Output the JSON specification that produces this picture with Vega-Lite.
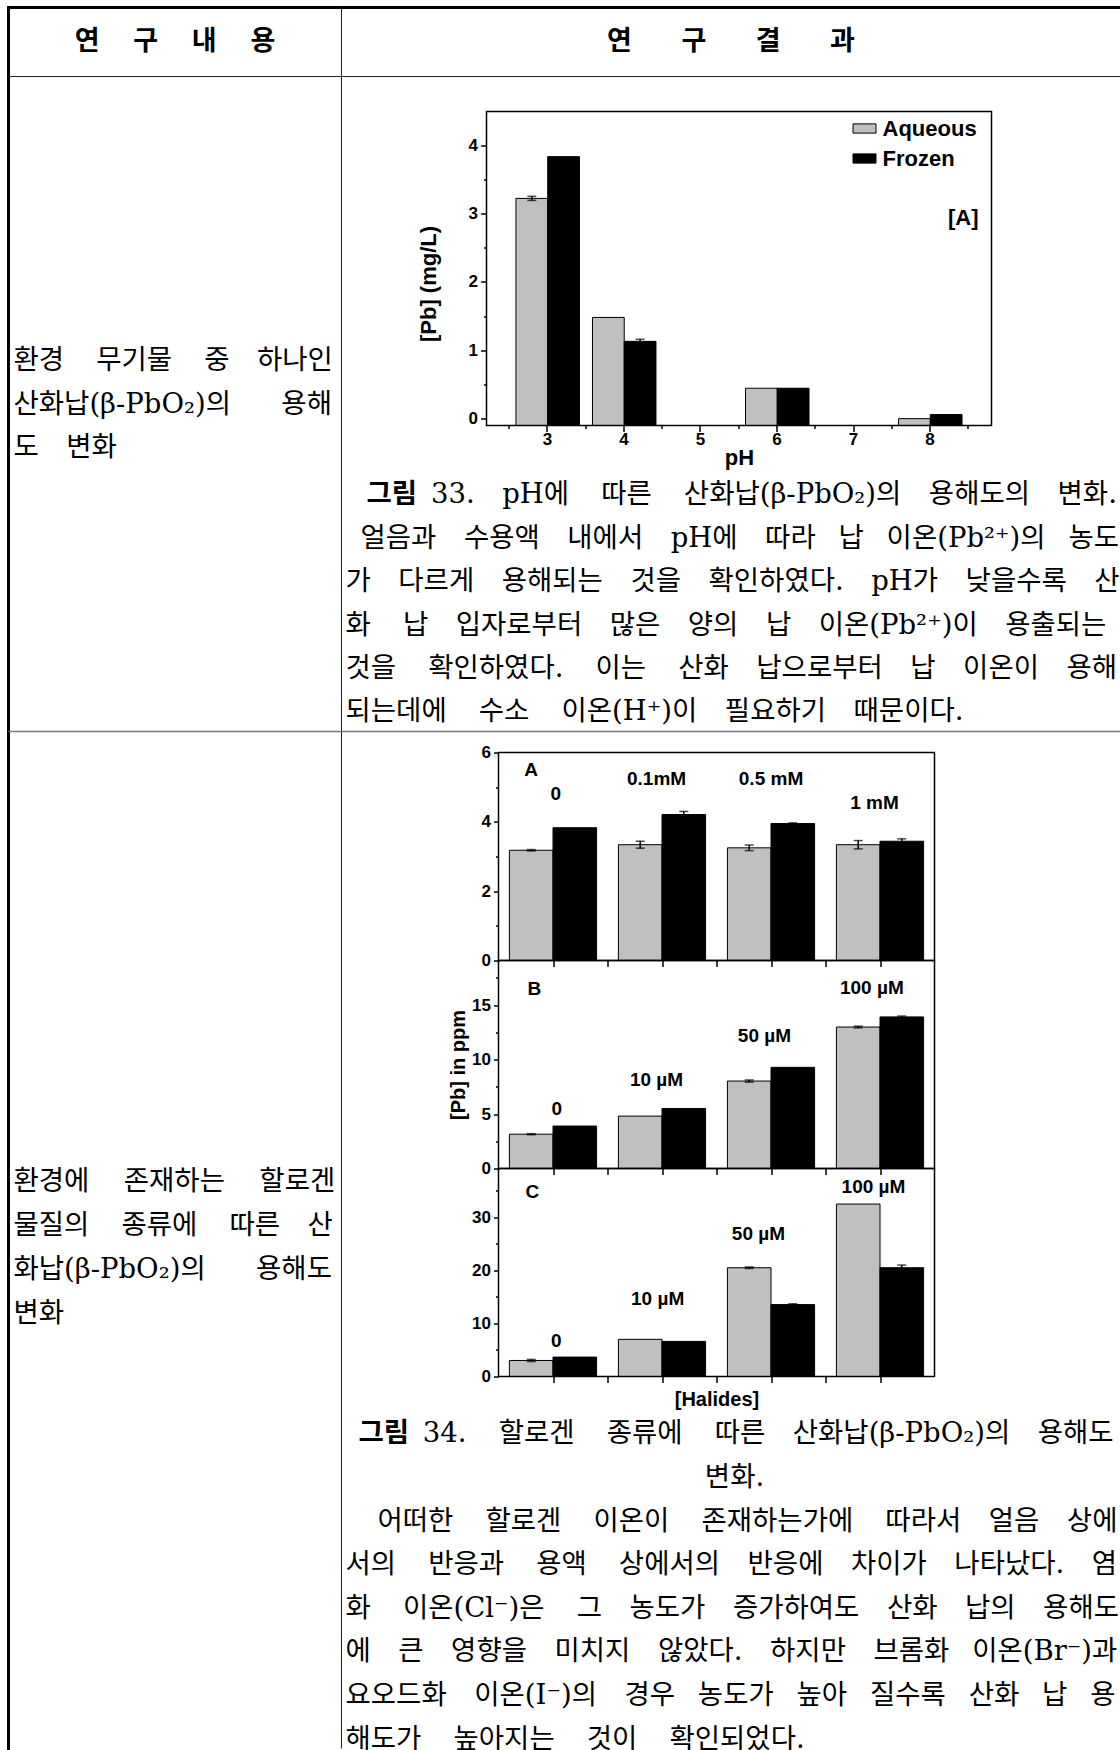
{
  "$schema": "https://vega.github.io/schema/vega-lite/v6.json",
  "background": "white",
  "padding": {"left": 5.5, "top": 4.5, "right": 0, "bottom": 0},
  "columns": 2,
  "spacing": 0,
  "bounds": "flush",
  "config": {
    "view": {"stroke": null},
    "concat": {"spacing": 0},
    "axis": {"domain": false, "grid": false, "minExtent": 0, "tickColor": "black", "tickWidth": 1.5, "labelColor": "black", "labelFont": "Liberation Sans", "labelFontWeight": "bold", "labelFontSize": 17, "titleColor": "black", "titleFont": "Liberation Sans", "titleFontWeight": "bold", "labelFlush": false, "labelOverlap": false}
  },
  "resolve": {"scale": {"color": "independent"}, "legend": {"color": "independent"}},
  "datasets": {
    "ph": [
      {"pH": 3, "series": "Aqueous", "value": 3.22, "err": 0.03},
      {"pH": 3, "series": "Frozen", "value": 3.83, "err": 0},
      {"pH": 4, "series": "Aqueous", "value": 1.48, "err": 0},
      {"pH": 4, "series": "Frozen", "value": 1.13, "err": 0.03},
      {"pH": 6, "series": "Aqueous", "value": 0.445, "err": 0},
      {"pH": 6, "series": "Frozen", "value": 0.445, "err": 0},
      {"pH": 8, "series": "Aqueous", "value": 0.0, "err": 0},
      {"pH": 8, "series": "Frozen", "value": 0.06, "err": 0}
    ],
    "halide": [
      {"panel": "A", "conc": "0", "series": "Aqueous", "value": 3.18, "err": 0.02},
      {"panel": "A", "conc": "0", "series": "Frozen", "value": 3.83, "err": 0},
      {"panel": "A", "conc": "0.1mM", "series": "Aqueous", "value": 3.34, "err": 0.1},
      {"panel": "A", "conc": "0.1mM", "series": "Frozen", "value": 4.21, "err": 0.09},
      {"panel": "A", "conc": "0.5 mM", "series": "Aqueous", "value": 3.25, "err": 0.08},
      {"panel": "A", "conc": "0.5 mM", "series": "Frozen", "value": 3.95, "err": 0.02},
      {"panel": "A", "conc": "1 mM", "series": "Aqueous", "value": 3.34, "err": 0.12},
      {"panel": "A", "conc": "1 mM", "series": "Frozen", "value": 3.44, "err": 0.07},
      {"panel": "B", "conc": "0", "series": "Aqueous", "value": 3.15, "err": 0.05},
      {"panel": "B", "conc": "0", "series": "Frozen", "value": 3.9, "err": 0},
      {"panel": "B", "conc": "10 µM", "series": "Aqueous", "value": 4.81, "err": 0},
      {"panel": "B", "conc": "10 µM", "series": "Frozen", "value": 5.51, "err": 0},
      {"panel": "B", "conc": "50 µM", "series": "Aqueous", "value": 8.03, "err": 0.1},
      {"panel": "B", "conc": "50 µM", "series": "Frozen", "value": 9.29, "err": 0},
      {"panel": "B", "conc": "100 µM", "series": "Aqueous", "value": 12.99, "err": 0.08},
      {"panel": "B", "conc": "100 µM", "series": "Frozen", "value": 13.92, "err": 0.08},
      {"panel": "C", "conc": "0", "series": "Aqueous", "value": 3.02, "err": 0.2},
      {"panel": "C", "conc": "0", "series": "Frozen", "value": 3.66, "err": 0},
      {"panel": "C", "conc": "10 µM", "series": "Aqueous", "value": 7.0, "err": 0},
      {"panel": "C", "conc": "10 µM", "series": "Frozen", "value": 6.62, "err": 0},
      {"panel": "C", "conc": "50 µM", "series": "Aqueous", "value": 20.5, "err": 0.15},
      {"panel": "C", "conc": "50 µM", "series": "Frozen", "value": 13.55, "err": 0.15},
      {"panel": "C", "conc": "100 µM", "series": "Aqueous", "value": 32.5, "err": 0},
      {"panel": "C", "conc": "100 µM", "series": "Frozen", "value": 20.5, "err": 0.5}
    ]
  },
  "concat": [
    {
      "width": 333, "height": 69,
      "data": {"values": [{"t": "연\u3000\u2005구\u3000\u2005내\u3000\u2005용"}]},
      "layer": [
        {"mark": {"type": "rule", "color": "black", "strokeWidth": 3, "strokeCap": "square"}, "encoding": {"x": {"value": 0}}},
        {"mark": {"type": "rule", "color": "black", "strokeWidth": 3, "strokeCap": "square"}, "encoding": {"y": {"value": 0}}},
        {"mark": {"type": "text", "font": "Noto Sans CJK KR", "fontWeight": "bold", "fontSize": 27, "color": "black"}, "encoding": {"text": {"field": "t"}}}
      ]
    },
    {
      "width": 779, "height": 69,
      "data": {"values": [{"t": "연\u3000\u2002\u2004구\u3000\u2002\u2004결\u3000\u2002\u2004과"}]},
      "layer": [
        {"mark": {"type": "rule", "color": "#222222", "strokeWidth": 1}, "encoding": {"x": {"value": 0}}},
        {"mark": {"type": "rule", "color": "black", "strokeWidth": 3}, "encoding": {"y": {"value": 0}}},
        {"mark": {"type": "text", "font": "Noto Sans CJK KR", "fontWeight": "bold", "fontSize": 27, "color": "black"}, "encoding": {"text": {"field": "t"}}}
      ]
    },
    {
      "width": 333, "height": 655,
      "layer": [
        {"data": {"values": [{}]}, "mark": {"type": "rule", "color": "black", "strokeWidth": 3, "strokeCap": "square"}, "encoding": {"x": {"value": 0}}},
        {"data": {"values": [{}]}, "mark": {"type": "rule", "color": "#222222", "strokeWidth": 1}, "encoding": {"y": {"value": 0}}},
        {
          "data": {"values": [
            {"line": 0, "text": "환경\u3000\u2006무기물\u3000\u2006중\u3000하나인"},
            {"line": 1, "text": "산화납(β-PbO₂)의\u3000\u2002\u2004용해"},
            {"line": 2, "text": "도\u3000변화"}
          ]},
          "mark": {"type": "text", "align": "left", "baseline": "middle", "font": "DejaVu Serif, Noto Sans CJK KR", "fontSize": 27.5, "color": "black"},
          "encoding": {
            "x": {"datum": 0.015, "type": "quantitative", "scale": {"domain": [0, 1], "nice": false, "zero": false}, "axis": null},
            "y": {"field": "line", "type": "quantitative", "scale": {"domain": [-6.54, 8.517], "nice": false, "zero": false, "reverse": true}, "axis": null},
            "text": {"field": "text"}
          }
        }
      ]
    },
    {
      "width": 779, "height": 655,
      "layer": [
        {"data": {"values": [{}]}, "mark": {"type": "rule", "color": "#222222", "strokeWidth": 1}, "encoding": {"x": {"value": 0}}},
        {"data": {"values": [{}]}, "mark": {"type": "rule", "color": "#222222", "strokeWidth": 1}, "encoding": {"y": {"value": 0}}},
        {
          "data": {"name": "ph"},
          "mark": {"type": "bar", "stroke": "black", "strokeWidth": 1},
          "encoding": {
            "x": {"field": "pH", "type": "ordinal", "scale": {"domain": [3, 4, 5, 6, 7, 8], "range": [145, 650], "paddingInner": 0.17, "paddingOuter": 0.385}, "axis": null},
            "xOffset": {"field": "series", "type": "nominal", "scale": {"domain": ["Aqueous", "Frozen"], "paddingInner": 0, "paddingOuter": 0}},
            "y": {"field": "value", "type": "quantitative", "scale": {"domain": [-0.1, 4.49], "range": [349, 35], "nice": false, "zero": false},
              "axis": {"orient": "left", "offset": -145, "values": [0, 1, 2, 3, 4], "tickSize": 6, "labelPadding": 3, "labelFont": "Liberation Sans Narrow, Liberation Sans", "labelFontSize": 17, "title": "[Pb] (mg/L)", "titleFontSize": 22, "titlePadding": 28, "titleY": 207}},
            "y2": {"datum": -0.1},
            "color": {"field": "series", "type": "nominal", "scale": {"domain": ["Aqueous", "Frozen"], "range": ["#c0c0c0", "#000000"]},
              "legend": {"title": null, "orient": "none", "legendX": 511, "legendY": 40, "padding": 0, "symbolType": "M-1,-0.4H1V0.4H-1Z", "symbolSize": 529, "symbolStrokeColor": "black", "symbolStrokeWidth": 1, "labelFont": "Liberation Sans", "labelFontWeight": "bold", "labelFontSize": 22, "labelColor": "black", "labelOffset": 6, "rowPadding": 7}}
          }
        },
        {
          "data": {"name": "ph"},
          "transform": [{"filter": "datum.err > 0"}],
          "mark": {"type": "errorbar", "color": "black", "ticks": {"size": 9, "thickness": 1.5, "color": "black"}, "rule": {"color": "black", "strokeWidth": 1.5}},
          "encoding": {
            "x": {"field": "pH", "type": "ordinal", "scale": {"domain": [3, 4, 5, 6, 7, 8], "range": [145, 650], "paddingInner": 0.17, "paddingOuter": 0.385}, "axis": null},
            "xOffset": {"field": "series", "type": "nominal", "scale": {"domain": ["Aqueous", "Frozen"], "paddingInner": 0, "paddingOuter": 0}},
            "y": {"field": "value", "type": "quantitative", "scale": {"domain": [-0.1, 4.49], "range": [349, 35], "nice": false, "zero": false}, "axis": null},
            "yError": {"field": "err"}
          }
        },
        {
          "data": {"values": [{}]},
          "mark": {"type": "text", "font": "Liberation Sans", "fontWeight": "bold", "fontSize": 22, "color": "black"},
          "encoding": {
            "x": {"datum": 8.44, "type": "quantitative", "scale": {"domain": [2.21, 8.81], "range": [145, 650], "nice": false, "zero": false},
              "axis": {"orient": "bottom", "offset": -306, "values": [3, 4, 5, 6, 7, 8], "tickSize": 6, "labelPadding": 0, "labelFont": "Liberation Sans Narrow, Liberation Sans", "labelFontSize": 17, "title": "pH", "titleFontSize": 22, "titlePadding": 0}},
            "y": {"datum": 2.93, "type": "quantitative", "scale": {"domain": [-0.1, 4.49], "range": [349, 35], "nice": false, "zero": false},
              "axis": {"orient": "left", "offset": -145, "values": [0.5, 1.5, 2.5, 3.5], "tickSize": 3, "labels": false, "title": null}},
            "text": {"value": "[A]"}
          }
        },
        {
          "data": {"values": [{}]},
          "mark": {"type": "text", "fontSize": 1},
          "encoding": {
            "x": {"datum": 5, "type": "quantitative", "scale": {"domain": [2.21, 8.81], "range": [145, 650], "nice": false, "zero": false},
              "axis": {"orient": "bottom", "offset": -306, "values": [2.5, 3.5, 4.5, 5.5, 6.5, 7.5, 8.5], "tickSize": 3, "labels": false, "title": null}},
            "y": {"datum": 1, "type": "quantitative", "scale": {"domain": [-0.1, 4.49], "range": [349, 35], "nice": false, "zero": false}, "axis": null},
            "text": {"value": ""}
          }
        },
        {
          "data": {"values": [{}]},
          "mark": {"type": "rect", "filled": false, "color": "black", "strokeWidth": 1.5},
          "encoding": {
            "x": {"datum": 2.21, "type": "quantitative", "scale": {"domain": [2.21, 8.81], "range": [145, 650], "nice": false, "zero": false}, "axis": null},
            "x2": {"datum": 8.81},
            "y": {"datum": -0.1, "type": "quantitative", "scale": {"domain": [-0.1, 4.49], "range": [349, 35], "nice": false, "zero": false}, "axis": null},
            "y2": {"datum": 4.49}
          }
        },
        {
          "data": {"values": [{"line": 0, "text": "그림"}]},
          "mark": {"type": "text", "align": "left", "baseline": "middle", "font": "DejaVu Serif, Noto Sans CJK KR", "fontWeight": "bold", "fontSize": 27.5, "color": "black"},
          "encoding": {
            "x": {"datum": 0.0321, "type": "quantitative", "scale": {"domain": [0, 1], "nice": false, "zero": false}, "axis": null},
            "y": {"field": "line", "type": "quantitative", "scale": {"domain": [-9.654, 5.438], "nice": false, "zero": false, "reverse": true}, "axis": null},
            "text": {"field": "text"}
          }
        },
        {
          "data": {"values": [{"line": 0, "text": "33.\u3000pH에\u3000\u2006따른\u3000\u2006산화납(β-PbO₂)의\u3000용해도의\u3000변화."}]},
          "mark": {"type": "text", "align": "left", "baseline": "middle", "font": "DejaVu Serif, Noto Sans CJK KR", "fontSize": 27.5, "color": "black"},
          "encoding": {
            "x": {"datum": 0.1148, "type": "quantitative", "scale": {"domain": [0, 1], "nice": false, "zero": false}, "axis": null},
            "y": {"field": "line", "type": "quantitative", "scale": {"domain": [-9.654, 5.438], "nice": false, "zero": false, "reverse": true}, "axis": null},
            "text": {"field": "text"}
          }
        },
        {
          "data": {"values": [{"line": 1, "text": "얼음과\u3000수용액\u3000내에서\u3000pH에\u3000따라\u2002\u2004납\u2002\u2004이온(Pb²⁺)의\u2002\u2004농도"}]},
          "mark": {"type": "text", "align": "left", "baseline": "middle", "font": "DejaVu Serif, Noto Sans CJK KR", "fontSize": 27.5, "color": "black"},
          "encoding": {
            "x": {"datum": 0.0244, "type": "quantitative", "scale": {"domain": [0, 1], "nice": false, "zero": false}, "axis": null},
            "y": {"field": "line", "type": "quantitative", "scale": {"domain": [-9.654, 5.438], "nice": false, "zero": false, "reverse": true}, "axis": null},
            "text": {"field": "text"}
          }
        },
        {
          "data": {"values": [
            {"line": 2, "text": "가\u3000다르게\u3000용해되는\u3000것을\u3000확인하였다.\u3000pH가\u3000낮을수록\u3000산"},
            {"line": 3, "text": "화\u3000\u2006납\u3000입자로부터\u3000많은\u3000양의\u3000납\u3000이온(Pb²⁺)이\u3000용출되는"},
            {"line": 4, "text": "것을\u3000\u2006확인하였다.\u3000\u2006이는\u3000\u2006산화\u3000납으로부터\u3000납\u3000이온이\u3000용해"},
            {"line": 5, "text": "되는데에\u3000\u2006수소\u3000\u2006이온(H⁺)이\u3000필요하기\u3000때문이다."}
          ]},
          "mark": {"type": "text", "align": "left", "baseline": "middle", "font": "DejaVu Serif, Noto Sans CJK KR", "fontSize": 27.5, "color": "black"},
          "encoding": {
            "x": {"datum": 0.00513, "type": "quantitative", "scale": {"domain": [0, 1], "nice": false, "zero": false}, "axis": null},
            "y": {"field": "line", "type": "quantitative", "scale": {"domain": [-9.654, 5.438], "nice": false, "zero": false, "reverse": true}, "axis": null},
            "text": {"field": "text"}
          }
        }
      ],
      "resolve": {"scale": {"x": "independent", "y": "independent", "xOffset": "independent"}, "axis": {"x": "independent", "y": "independent"}}
    },
    {
      "width": 333, "height": 1017,
      "layer": [
        {"data": {"values": [{}]}, "mark": {"type": "rule", "color": "black", "strokeWidth": 3, "strokeCap": "square"}, "encoding": {"x": {"value": 0}}},
        {"data": {"values": [{}]}, "mark": {"type": "rule", "color": "#777777", "strokeWidth": 1.5}, "encoding": {"y": {"value": 0}}},
        {
          "data": {"values": [
            {"line": 0, "text": "환경에\u3000\u2005존재하는\u3000\u2005할로겐"},
            {"line": 1, "text": "물질의\u3000\u2006종류에\u3000\u2006따른\u3000산"},
            {"line": 2, "text": "화납(β-PbO₂)의\u3000\u2002\u2004용해도"},
            {"line": 3, "text": "변화"}
          ]},
          "mark": {"type": "text", "align": "left", "baseline": "middle", "font": "DejaVu Serif, Noto Sans CJK KR", "fontSize": 27.5, "color": "black"},
          "encoding": {
            "x": {"datum": 0.015, "type": "quantitative", "scale": {"domain": [0, 1], "nice": false, "zero": false}, "axis": null},
            "y": {"field": "line", "type": "quantitative", "scale": {"domain": [-10.234, 12.88], "nice": false, "zero": false, "reverse": true}, "axis": null},
            "text": {"field": "text"}
          }
        }
      ]
    },
    {
      "width": 779, "height": 1017,
      "layer": [
        {"data": {"values": [{}]}, "mark": {"type": "rule", "color": "#222222", "strokeWidth": 1}, "encoding": {"x": {"value": 0}}},
        {"data": {"values": [{}]}, "mark": {"type": "rule", "color": "#777777", "strokeWidth": 1.5}, "encoding": {"y": {"value": 0}}},

        {
          "data": {"name": "halide"},
          "transform": [{"filter": "datum.panel === 'A'"}],
          "mark": {"type": "bar", "stroke": "black", "strokeWidth": 1},
          "encoding": {
            "x": {"field": "conc", "type": "ordinal", "scale": {"domain": ["0", "0.1mM", "0.5 mM", "1 mM"], "range": [157, 593], "paddingInner": 0.2, "paddingOuter": 0.1}, "axis": null},
            "xOffset": {"field": "series", "type": "nominal", "scale": {"domain": ["Aqueous", "Frozen"], "paddingInner": 0, "paddingOuter": 0}},
            "y": {"field": "value", "type": "quantitative", "scale": {"domain": [0, 6], "range": [229, 21], "nice": false, "zero": false}, "axis": {"orient": "left", "offset": -157, "values": [0, 2, 4, 6], "tickSize": 5, "labelPadding": 3, "title": null}},
            "color": {"field": "series", "type": "nominal", "scale": {"domain": ["Aqueous", "Frozen"], "range": ["#c0c0c0", "#000000"]}, "legend": null}
          }
        },
        {
          "data": {"name": "halide"},
          "transform": [{"filter": "datum.panel === 'A' && datum.err > 0"}],
          "mark": {"type": "errorbar", "color": "black", "ticks": {"size": 9, "thickness": 1.5, "color": "black"}, "rule": {"color": "black", "strokeWidth": 1.5}},
          "encoding": {
            "x": {"field": "conc", "type": "ordinal", "scale": {"domain": ["0", "0.1mM", "0.5 mM", "1 mM"], "range": [157, 593], "paddingInner": 0.2, "paddingOuter": 0.1}, "axis": null},
            "xOffset": {"field": "series", "type": "nominal", "scale": {"domain": ["Aqueous", "Frozen"], "paddingInner": 0, "paddingOuter": 0}},
            "y": {"field": "value", "type": "quantitative", "scale": {"domain": [0, 6], "range": [229, 21], "nice": false, "zero": false}, "axis": null},
            "yError": {"field": "err"}
          }
        },
        {
          "data": {"values": [{}]},
          "mark": {"type": "text", "font": "Liberation Sans", "fontWeight": "bold", "fontSize": 19, "color": "black"},
          "encoding": {
            "x": {"datum": 0.6, "type": "quantitative", "scale": {"domain": [0, 8], "range": [157, 593], "nice": false, "zero": false}, "axis": {"orient": "bottom", "offset": -788, "values": [1, 2, 3, 4, 5, 6, 7], "tickSize": 6, "labels": false, "title": null}},
            "y": {"datum": 5.5, "type": "quantitative", "scale": {"domain": [0, 6], "range": [229, 21], "nice": false, "zero": false}, "axis": {"orient": "left", "offset": -157, "values": [1, 3, 5], "tickSize": 3, "labels": false, "title": null}},
            "text": {"value": "A"}
          }
        },
        {"data": {"values": [{}]}, "mark": {"type": "text", "font": "Liberation Sans", "fontWeight": "bold", "fontSize": 19, "color": "black"},
          "encoding": {"x": {"datum": 1.05, "type": "quantitative", "scale": {"domain": [0, 8], "range": [157, 593], "nice": false, "zero": false}, "axis": null}, "y": {"datum": 4.8, "type": "quantitative", "scale": {"domain": [0, 6], "range": [229, 21], "nice": false, "zero": false}, "axis": null}, "text": {"value": "0"}}},
        {"data": {"values": [{}]}, "mark": {"type": "text", "font": "Liberation Sans", "fontWeight": "bold", "fontSize": 19, "color": "black"},
          "encoding": {"x": {"datum": 2.9, "type": "quantitative", "scale": {"domain": [0, 8], "range": [157, 593], "nice": false, "zero": false}, "axis": null}, "y": {"datum": 5.25, "type": "quantitative", "scale": {"domain": [0, 6], "range": [229, 21], "nice": false, "zero": false}, "axis": null}, "text": {"value": "0.1mM"}}},
        {"data": {"values": [{}]}, "mark": {"type": "text", "font": "Liberation Sans", "fontWeight": "bold", "fontSize": 19, "color": "black"},
          "encoding": {"x": {"datum": 5.0, "type": "quantitative", "scale": {"domain": [0, 8], "range": [157, 593], "nice": false, "zero": false}, "axis": null}, "y": {"datum": 5.25, "type": "quantitative", "scale": {"domain": [0, 6], "range": [229, 21], "nice": false, "zero": false}, "axis": null}, "text": {"value": "0.5 mM"}}},
        {"data": {"values": [{}]}, "mark": {"type": "text", "font": "Liberation Sans", "fontWeight": "bold", "fontSize": 19, "color": "black"},
          "encoding": {"x": {"datum": 6.9, "type": "quantitative", "scale": {"domain": [0, 8], "range": [157, 593], "nice": false, "zero": false}, "axis": null}, "y": {"datum": 4.55, "type": "quantitative", "scale": {"domain": [0, 6], "range": [229, 21], "nice": false, "zero": false}, "axis": null}, "text": {"value": "1 mM"}}},
        {
          "data": {"values": [{}]},
          "mark": {"type": "rect", "filled": false, "color": "black", "strokeWidth": 1.5},
          "encoding": {
            "x": {"datum": 0, "type": "quantitative", "scale": {"domain": [0, 8], "range": [157, 593], "nice": false, "zero": false}, "axis": null},
            "x2": {"datum": 8},
            "y": {"datum": 0, "type": "quantitative", "scale": {"domain": [0, 6], "range": [229, 21], "nice": false, "zero": false}, "axis": null},
            "y2": {"datum": 6}
          }
        },

        {
          "data": {"name": "halide"},
          "transform": [{"filter": "datum.panel === 'B'"}],
          "mark": {"type": "bar", "stroke": "black", "strokeWidth": 1},
          "encoding": {
            "x": {"field": "conc", "type": "ordinal", "scale": {"domain": ["0", "10 µM", "50 µM", "100 µM"], "range": [157, 593], "paddingInner": 0.2, "paddingOuter": 0.1}, "axis": null},
            "xOffset": {"field": "series", "type": "nominal", "scale": {"domain": ["Aqueous", "Frozen"], "paddingInner": 0, "paddingOuter": 0}},
            "y": {"field": "value", "type": "quantitative", "scale": {"domain": [0, 19.1], "range": [437, 229], "nice": false, "zero": false}, "axis": {"orient": "left", "offset": -157, "values": [0, 5, 10, 15], "tickSize": 5, "labelPadding": 3, "title": "[Pb] in ppm", "titleFontSize": 20, "titlePadding": 3}},
            "color": {"field": "series", "type": "nominal", "scale": {"domain": ["Aqueous", "Frozen"], "range": ["#c0c0c0", "#000000"]}, "legend": null}
          }
        },
        {
          "data": {"name": "halide"},
          "transform": [{"filter": "datum.panel === 'B' && datum.err > 0"}],
          "mark": {"type": "errorbar", "color": "black", "ticks": {"size": 9, "thickness": 1.5, "color": "black"}, "rule": {"color": "black", "strokeWidth": 1.5}},
          "encoding": {
            "x": {"field": "conc", "type": "ordinal", "scale": {"domain": ["0", "10 µM", "50 µM", "100 µM"], "range": [157, 593], "paddingInner": 0.2, "paddingOuter": 0.1}, "axis": null},
            "xOffset": {"field": "series", "type": "nominal", "scale": {"domain": ["Aqueous", "Frozen"], "paddingInner": 0, "paddingOuter": 0}},
            "y": {"field": "value", "type": "quantitative", "scale": {"domain": [0, 19.1], "range": [437, 229], "nice": false, "zero": false}, "axis": null},
            "yError": {"field": "err"}
          }
        },
        {
          "data": {"values": [{}]},
          "mark": {"type": "text", "font": "Liberation Sans", "fontWeight": "bold", "fontSize": 19, "color": "black"},
          "encoding": {
            "x": {"datum": 0.66, "type": "quantitative", "scale": {"domain": [0, 8], "range": [157, 593], "nice": false, "zero": false}, "axis": {"orient": "bottom", "offset": -580, "values": [1, 2, 3, 4, 5, 6, 7], "tickSize": 6, "labels": false, "title": null}},
            "y": {"datum": 16.5, "type": "quantitative", "scale": {"domain": [0, 19.1], "range": [437, 229], "nice": false, "zero": false}, "axis": {"orient": "left", "offset": -157, "values": [2.5, 7.5, 12.5, 17.5], "tickSize": 3, "labels": false, "title": null}},
            "text": {"value": "B"}
          }
        },
        {"data": {"values": [{}]}, "mark": {"type": "text", "font": "Liberation Sans", "fontWeight": "bold", "fontSize": 19, "color": "black"},
          "encoding": {"x": {"datum": 1.07, "type": "quantitative", "scale": {"domain": [0, 8], "range": [157, 593], "nice": false, "zero": false}, "axis": null}, "y": {"datum": 5.5, "type": "quantitative", "scale": {"domain": [0, 19.1], "range": [437, 229], "nice": false, "zero": false}, "axis": null}, "text": {"value": "0"}}},
        {"data": {"values": [{}]}, "mark": {"type": "text", "font": "Liberation Sans", "fontWeight": "bold", "fontSize": 19, "color": "black"},
          "encoding": {"x": {"datum": 2.9, "type": "quantitative", "scale": {"domain": [0, 8], "range": [157, 593], "nice": false, "zero": false}, "axis": null}, "y": {"datum": 8.1, "type": "quantitative", "scale": {"domain": [0, 19.1], "range": [437, 229], "nice": false, "zero": false}, "axis": null}, "text": {"value": "10 µM"}}},
        {"data": {"values": [{}]}, "mark": {"type": "text", "font": "Liberation Sans", "fontWeight": "bold", "fontSize": 19, "color": "black"},
          "encoding": {"x": {"datum": 4.88, "type": "quantitative", "scale": {"domain": [0, 8], "range": [157, 593], "nice": false, "zero": false}, "axis": null}, "y": {"datum": 12.2, "type": "quantitative", "scale": {"domain": [0, 19.1], "range": [437, 229], "nice": false, "zero": false}, "axis": null}, "text": {"value": "50 µM"}}},
        {"data": {"values": [{}]}, "mark": {"type": "text", "font": "Liberation Sans", "fontWeight": "bold", "fontSize": 19, "color": "black"},
          "encoding": {"x": {"datum": 6.85, "type": "quantitative", "scale": {"domain": [0, 8], "range": [157, 593], "nice": false, "zero": false}, "axis": null}, "y": {"datum": 16.6, "type": "quantitative", "scale": {"domain": [0, 19.1], "range": [437, 229], "nice": false, "zero": false}, "axis": null}, "text": {"value": "100 µM"}}},
        {
          "data": {"values": [{}]},
          "mark": {"type": "rect", "filled": false, "color": "black", "strokeWidth": 1.5},
          "encoding": {
            "x": {"datum": 0, "type": "quantitative", "scale": {"domain": [0, 8], "range": [157, 593], "nice": false, "zero": false}, "axis": null},
            "x2": {"datum": 8},
            "y": {"datum": 0, "type": "quantitative", "scale": {"domain": [0, 19.1], "range": [437, 229], "nice": false, "zero": false}, "axis": null},
            "y2": {"datum": 19.1}
          }
        },

        {
          "data": {"name": "halide"},
          "transform": [{"filter": "datum.panel === 'C'"}],
          "mark": {"type": "bar", "stroke": "black", "strokeWidth": 1},
          "encoding": {
            "x": {"field": "conc", "type": "ordinal", "scale": {"domain": ["0", "10 µM", "50 µM", "100 µM"], "range": [157, 593], "paddingInner": 0.2, "paddingOuter": 0.1}, "axis": null},
            "xOffset": {"field": "series", "type": "nominal", "scale": {"domain": ["Aqueous", "Frozen"], "paddingInner": 0, "paddingOuter": 0}},
            "y": {"field": "value", "type": "quantitative", "scale": {"domain": [0, 39.2], "range": [645, 437], "nice": false, "zero": false}, "axis": {"orient": "left", "offset": -157, "values": [0, 10, 20, 30], "tickSize": 5, "labelPadding": 3, "title": null}},
            "color": {"field": "series", "type": "nominal", "scale": {"domain": ["Aqueous", "Frozen"], "range": ["#c0c0c0", "#000000"]}, "legend": null}
          }
        },
        {
          "data": {"name": "halide"},
          "transform": [{"filter": "datum.panel === 'C' && datum.err > 0"}],
          "mark": {"type": "errorbar", "color": "black", "ticks": {"size": 9, "thickness": 1.5, "color": "black"}, "rule": {"color": "black", "strokeWidth": 1.5}},
          "encoding": {
            "x": {"field": "conc", "type": "ordinal", "scale": {"domain": ["0", "10 µM", "50 µM", "100 µM"], "range": [157, 593], "paddingInner": 0.2, "paddingOuter": 0.1}, "axis": null},
            "xOffset": {"field": "series", "type": "nominal", "scale": {"domain": ["Aqueous", "Frozen"], "paddingInner": 0, "paddingOuter": 0}},
            "y": {"field": "value", "type": "quantitative", "scale": {"domain": [0, 39.2], "range": [645, 437], "nice": false, "zero": false}, "axis": null},
            "yError": {"field": "err"}
          }
        },
        {
          "data": {"values": [{}]},
          "mark": {"type": "text", "font": "Liberation Sans", "fontWeight": "bold", "fontSize": 19, "color": "black"},
          "encoding": {
            "x": {"datum": 0.62, "type": "quantitative", "scale": {"domain": [0, 8], "range": [157, 593], "nice": false, "zero": false}, "axis": {"orient": "bottom", "offset": -372, "values": [1, 2, 3, 4, 5, 6, 7], "tickSize": 6, "labels": false, "title": "[Halides]", "titleFontSize": 20, "titlePadding": 6}},
            "y": {"datum": 34.7, "type": "quantitative", "scale": {"domain": [0, 39.2], "range": [645, 437], "nice": false, "zero": false}, "axis": {"orient": "left", "offset": -157, "values": [5, 15, 25, 35], "tickSize": 3, "labels": false, "title": null}},
            "text": {"value": "C"}
          }
        },
        {"data": {"values": [{}]}, "mark": {"type": "text", "font": "Liberation Sans", "fontWeight": "bold", "fontSize": 19, "color": "black"},
          "encoding": {"x": {"datum": 1.06, "type": "quantitative", "scale": {"domain": [0, 8], "range": [157, 593], "nice": false, "zero": false}, "axis": null}, "y": {"datum": 6.6, "type": "quantitative", "scale": {"domain": [0, 39.2], "range": [645, 437], "nice": false, "zero": false}, "axis": null}, "text": {"value": "0"}}},
        {"data": {"values": [{}]}, "mark": {"type": "text", "font": "Liberation Sans", "fontWeight": "bold", "fontSize": 19, "color": "black"},
          "encoding": {"x": {"datum": 2.92, "type": "quantitative", "scale": {"domain": [0, 8], "range": [157, 593], "nice": false, "zero": false}, "axis": null}, "y": {"datum": 14.7, "type": "quantitative", "scale": {"domain": [0, 39.2], "range": [645, 437], "nice": false, "zero": false}, "axis": null}, "text": {"value": "10 µM"}}},
        {"data": {"values": [{}]}, "mark": {"type": "text", "font": "Liberation Sans", "fontWeight": "bold", "fontSize": 19, "color": "black"},
          "encoding": {"x": {"datum": 4.77, "type": "quantitative", "scale": {"domain": [0, 8], "range": [157, 593], "nice": false, "zero": false}, "axis": null}, "y": {"datum": 26.9, "type": "quantitative", "scale": {"domain": [0, 39.2], "range": [645, 437], "nice": false, "zero": false}, "axis": null}, "text": {"value": "50 µM"}}},
        {"data": {"values": [{}]}, "mark": {"type": "text", "font": "Liberation Sans", "fontWeight": "bold", "fontSize": 19, "color": "black"},
          "encoding": {"x": {"datum": 6.88, "type": "quantitative", "scale": {"domain": [0, 8], "range": [157, 593], "nice": false, "zero": false}, "axis": null}, "y": {"datum": 35.8, "type": "quantitative", "scale": {"domain": [0, 39.2], "range": [645, 437], "nice": false, "zero": false}, "axis": null}, "text": {"value": "100 µM"}}},
        {
          "data": {"values": [{}]},
          "mark": {"type": "rect", "filled": false, "color": "black", "strokeWidth": 1.5},
          "encoding": {
            "x": {"datum": 0, "type": "quantitative", "scale": {"domain": [0, 8], "range": [157, 593], "nice": false, "zero": false}, "axis": null},
            "x2": {"datum": 8},
            "y": {"datum": 0, "type": "quantitative", "scale": {"domain": [0, 39.2], "range": [645, 437], "nice": false, "zero": false}, "axis": null},
            "y2": {"datum": 39.2}
          }
        },

        {
          "data": {"values": [{"line": 0, "text": "그림"}]},
          "mark": {"type": "text", "align": "left", "baseline": "middle", "font": "DejaVu Serif, Noto Sans CJK KR", "fontWeight": "bold", "fontSize": 27.5, "color": "black"},
          "encoding": {
            "x": {"datum": 0.0218, "type": "quantitative", "scale": {"domain": [0, 1], "nice": false, "zero": false}, "axis": null},
            "y": {"field": "line", "type": "quantitative", "scale": {"domain": [-16.124, 7.202], "nice": false, "zero": false, "reverse": true}, "axis": null},
            "text": {"field": "text"}
          }
        },
        {
          "data": {"values": [{"line": 0, "text": "34.\u3000\u2006할로겐\u3000\u2006종류에\u3000\u2006따른\u3000산화납(β-PbO₂)의\u3000용해도"}]},
          "mark": {"type": "text", "align": "left", "baseline": "middle", "font": "DejaVu Serif, Noto Sans CJK KR", "fontSize": 27.5, "color": "black"},
          "encoding": {
            "x": {"datum": 0.1044, "type": "quantitative", "scale": {"domain": [0, 1], "nice": false, "zero": false}, "axis": null},
            "y": {"field": "line", "type": "quantitative", "scale": {"domain": [-16.124, 7.202], "nice": false, "zero": false, "reverse": true}, "axis": null},
            "text": {"field": "text"}
          }
        },
        {
          "data": {"values": [{"line": 1, "text": "변화."}]},
          "mark": {"type": "text", "align": "center", "baseline": "middle", "font": "DejaVu Serif, Noto Sans CJK KR", "fontSize": 27.5, "color": "black"},
          "encoding": {
            "x": {"datum": 0.5045, "type": "quantitative", "scale": {"domain": [0, 1], "nice": false, "zero": false}, "axis": null},
            "y": {"field": "line", "type": "quantitative", "scale": {"domain": [-16.124, 7.202], "nice": false, "zero": false, "reverse": true}, "axis": null},
            "text": {"field": "text"}
          }
        },
        {
          "data": {"values": [{"line": 2, "text": "어떠한\u3000\u2006할로겐\u3000\u2006이온이\u3000\u2006존재하는가에\u3000\u2006따라서\u3000얼음\u3000상에"}]},
          "mark": {"type": "text", "align": "left", "baseline": "middle", "font": "DejaVu Serif, Noto Sans CJK KR", "fontSize": 27.5, "color": "black"},
          "encoding": {
            "x": {"datum": 0.0462, "type": "quantitative", "scale": {"domain": [0, 1], "nice": false, "zero": false}, "axis": null},
            "y": {"field": "line", "type": "quantitative", "scale": {"domain": [-16.124, 7.202], "nice": false, "zero": false, "reverse": true}, "axis": null},
            "text": {"field": "text"}
          }
        },
        {
          "data": {"values": [
            {"line": 3, "text": "서의\u3000\u2006반응과\u3000\u2006용액\u3000\u2006상에서의\u3000반응에\u3000차이가\u3000나타났다.\u3000염"},
            {"line": 4, "text": "화\u3000\u2006이온(Cl⁻)은\u3000\u2006그\u3000농도가\u3000증가하여도\u3000산화\u3000납의\u3000용해도"},
            {"line": 5, "text": "에\u3000큰\u3000영향을\u3000미치지\u3000않았다.\u3000하지만\u3000브롬화\u2002\u2004이온(Br⁻)과"},
            {"line": 6, "text": "요오드화\u3000이온(I⁻)의\u3000경우\u2002\u2004농도가\u2002\u2004높아\u2002\u2004질수록\u2002\u2004산화\u2002\u2004납\u2002\u2004용"},
            {"line": 7, "text": "해도가\u3000\u2006높아지는\u3000\u2006것이\u3000\u2006확인되었다."}
          ]},
          "mark": {"type": "text", "align": "left", "baseline": "middle", "font": "DejaVu Serif, Noto Sans CJK KR", "fontSize": 27.5, "color": "black"},
          "encoding": {
            "x": {"datum": 0.00513, "type": "quantitative", "scale": {"domain": [0, 1], "nice": false, "zero": false}, "axis": null},
            "y": {"field": "line", "type": "quantitative", "scale": {"domain": [-16.124, 7.202], "nice": false, "zero": false, "reverse": true}, "axis": null},
            "text": {"field": "text"}
          }
        }
      ],
      "resolve": {"scale": {"x": "independent", "y": "independent", "xOffset": "independent"}, "axis": {"x": "independent", "y": "independent"}}
    }
  ]
}
